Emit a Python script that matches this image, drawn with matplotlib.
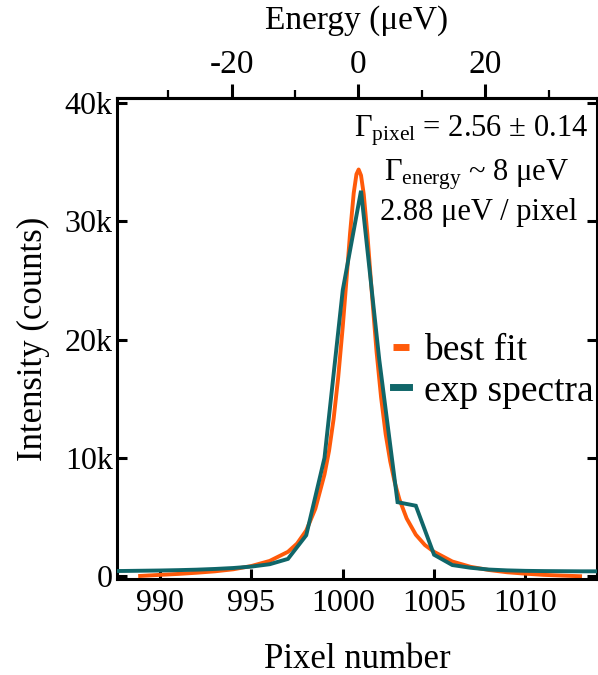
import matplotlib
matplotlib.use("Agg")
import matplotlib.pyplot as plt
from matplotlib.ticker import FixedLocator, FuncFormatter

plt.rcParams.update({
    "font.family": ["Liberation Serif", "DejaVu Serif"],
    "mathtext.fontset": "custom",
    "mathtext.rm": "Liberation Serif",
    "mathtext.it": "Liberation Serif:italic",
    "mathtext.bf": "Liberation Serif:bold",
    "axes.unicode_minus": False,
})

# ---- data ----
exp_pixel = [987, 988, 989, 990, 991, 992, 993, 994, 995, 996, 997, 998, 999,
             1000, 1001, 1002, 1003, 1004, 1005, 1006, 1007, 1008, 1009, 1010,
             1011, 1012, 1013, 1014]
exp_counts = [420, 430, 450, 470, 500, 540, 600, 680, 800, 1000, 1450, 3450,
              10000, 24200, 32600, 18300, 6250, 5950, 1800, 930, 700, 550, 480,
              440, 420, 410, 400, 400]

fit_pixel = [988.8, 990, 991, 992, 993, 994, 995, 996, 997, 997.5, 998, 998.5,
             999, 999.25, 999.5, 999.75, 1000, 1000.2, 1000.4, 1000.6, 1000.75,
             1000.87, 1001.0, 1001.15, 1001.35, 1001.6, 1001.85, 1002.1,
             1002.35, 1002.6, 1002.85, 1003.1, 1003.5, 1004, 1004.5, 1005,
             1006, 1007, 1008, 1009, 1010, 1011, 1012, 1013.1]
fit_counts = [0, 100, 180, 280, 400, 570, 850, 1280, 2050, 2750, 3850, 5700,
              8600, 10600, 13300, 16800, 21100, 25000, 29000, 32400, 34000,
              34400, 33900, 32300, 28900, 23800, 19000, 15100, 12000, 9700,
              7900, 6500, 4870, 3500, 2620, 2050, 1230, 780, 510, 320, 200,
              100, 40, -20]

y_ticks = [0, 10000, 20000, 30000, 40000]
x_ticks = [990, 995, 1000, 1005, 1010]
energy_major = [-20, 0, 20]
energy_minor = [-30, -10, 10, 30]
ev_per_pixel = 2.88
center_pixel = 1000.86

annot_1 = r"$\Gamma_{\mathrm{pixel}}$ = 2.56 ± 0.14"
annot_2 = r"$\Gamma_{\mathrm{energy}}$ ~ 8 μeV"
annot_3 = "2.88 μeV / pixel"

# ---- style ----
c_fit = "#FF5A0A"
c_exp = "#106669"

W, H = 598, 675
fig = plt.figure(figsize=(W / 100, H / 100), dpi=100)
ax = fig.add_axes([117 / W, 1 - 579 / H, 480 / W, 481 / H])

ax.plot(fit_pixel, fit_counts, color=c_fit, lw=2.8, label="best fit",
        solid_capstyle="butt", zorder=2)
ax.plot(exp_pixel, exp_counts, color=c_exp, lw=2.8, label="exp spectra",
        solid_joinstyle="miter", zorder=3)

ax.set_xlim(987.64, 1013.92)
ax.set_ylim(-250, 40450)

for s in ax.spines.values():
    s.set_linewidth(2.2)

ax.xaxis.set_major_locator(FixedLocator(x_ticks))
ax.yaxis.set_major_locator(FixedLocator(y_ticks))
ax.yaxis.set_major_formatter(FuncFormatter(
    lambda v, p: "0" if v == 0 else f"{int(round(v / 1000))}k"))
ax.tick_params(axis="both", which="major", direction="in", length=7,
               width=2.2, labelsize=23)
ax.tick_params(axis="x", pad=7, top=False)
ax.tick_params(axis="y", pad=3, right=True)

ax.set_xlabel("Pixel number", fontsize=25, labelpad=18)
ax.set_ylabel("Intensity (counts)", fontsize=25, labelpad=11)

sec = ax.secondary_xaxis(
    "top",
    functions=(lambda p: (p - center_pixel) * ev_per_pixel,
               lambda e: e / ev_per_pixel + center_pixel))
sec.xaxis.set_major_locator(FixedLocator(energy_major))
sec.xaxis.set_minor_locator(FixedLocator(energy_minor))
sec.tick_params(which="major", direction="out", length=10, width=2.2,
                labelsize=24, pad=3)
sec.tick_params(which="minor", direction="out", length=6, width=1.6)
sec.spines["top"].set_linewidth(2.2)
sec.set_xlabel("Energy (μeV)", fontsize=24, labelpad=15)

leg = ax.legend(loc="center left", bbox_to_anchor=(0.575, 0.432),
                frameon=False, fontsize=27, handlelength=0.42,
                handletextpad=0.42, labelspacing=0.15, borderpad=0,
                borderaxespad=0)
for h in leg.get_lines():
    h.set_linewidth(5)

fig.text(588 / W, 1 - 136 / H, annot_1, ha="right", va="baseline",
         fontsize=22)
fig.text(476 / W, 1 - 181 / H, annot_2, ha="center", va="baseline",
         fontsize=22)
fig.text(479 / W, 1 - 220 / H, annot_3, ha="center", va="baseline",
         fontsize=22)

fig.savefig("out.png", dpi=100)
